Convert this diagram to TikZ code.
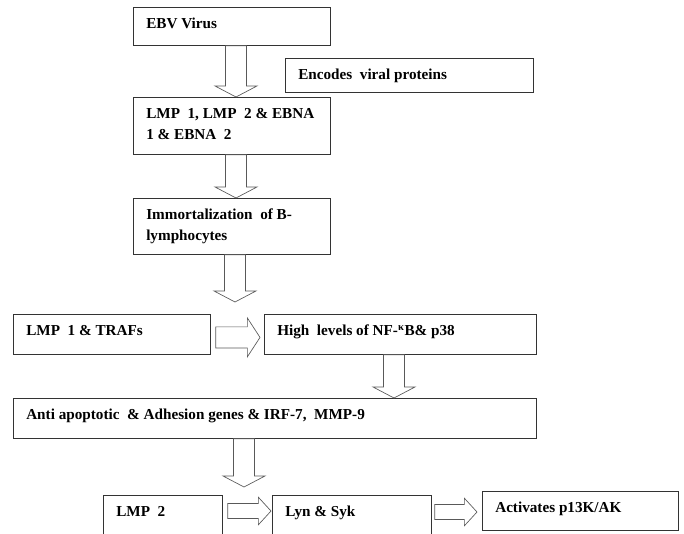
\documentclass[tikz,border=0pt]{standalone}
\usepackage{fontspec}
\setmainfont{Liberation Serif}
\usetikzlibrary{calc}

% hollow block arrow, pointing down
\newcommand{\vblock}[2]{%
  \draw[block] let \p1=#1, \p2=#2 in
    (\x1-7.9pt,\y1) -- (\x1+7.9pt,\y1) -- (\x1+7.9pt,\y2+8.3pt)
    -- (\x1+15.8pt,\y2+8.3pt) -- (\x1,\y2) -- (\x1-15.8pt,\y2+8.3pt)
    -- (\x1-7.9pt,\y2+8.3pt) -- cycle;}
% hollow block arrow, pointing right
\newcommand{\hblock}[3][7.9pt]{%
  \draw[block] let \p1=#2, \p2=#3 in
    (\x1,\y1+#1) -- (\x2-9.5pt,\y1+#1) -- (\x2-9.5pt,\y1+1.85*#1)
    -- (\x2,\y1) -- (\x2-9.5pt,\y1-1.85*#1) -- (\x2-9.5pt,\y1-#1)
    -- (\x1,\y1-#1) -- cycle;}

\begin{document}
\begin{tikzpicture}[
    x=0.75pt, y=-0.75pt,
    box/.style 2 args={draw=black!80, line width=0.6pt, anchor=north west, inner sep=0pt,
      minimum width=#1*0.75pt, minimum height=#2*0.75pt},
    txt/.style={anchor=north west, align=left, inner xsep=9.75pt, inner ysep=8.2pt,
      font=\bfseries\fontsize{11.4}{15.75}\selectfont},
    block/.style={draw=black!65, line width=0.5pt, fill=white, line join=miter}
  ]
  \clip (0,0) rectangle (684,533);
  \node[box={197}{38}, label={[txt]north west:EBV Virus}] (ebv) at (133,7) {};
  \node[box={248}{34}, label={[txt]north west:Encodes~ viral proteins}] (enc) at (285,58) {};
  \node[box={197}{57}, label={[txt]north west:{LMP~ 1, LMP~ 2 \& EBNA\\1 \& EBNA~ 2}}] (lmp) at (133,97) {};
  \node[box={197}{56}, label={[txt]north west:{Immortalization~ of B-\\lymphocytes}}] (imm) at (133,198) {};
  \node[box={197}{40}, label={[txt]north west:LMP~ 1 \& TRAFs}] (traf) at (13,314) {};
  \node[box={272}{40}, label={[txt]north west:High~ levels of NF-\textsuperscript{κ}B\& p38}] (nfkb) at (264,314) {};
  \node[box={523}{40}, label={[txt]north west:{Anti apoptotic~ \& Adhesion genes \& IRF-7,~ MMP-9}}] (anti) at (13,398) {};
  \node[box={119}{60}, label={[txt]north west:LMP~ 2}] (lmp2) at (103,495) {};
  \node[box={159}{60}, label={[txt]north west:Lyn \& Syk}] (lyn) at (272,495) {};
  \node[box={196}{39}, label={[txt]north west:Activates p13K/AK}] (act) at (482,491) {};

  \coordinate (tip3) at (235,302);
  \coordinate (tip5) at (244,487);
  \vblock{(236,0 |- ebv.south)}{(236,0 |- lmp.north)}
  \vblock{(236,0 |- lmp.south)}{(236,0 |- imm.north)}
  \vblock{(tip3 |- imm.south)}{(tip3)}
  \vblock{(394,0 |- nfkb.south)}{(394,0 |- anti.north)}
  \vblock{(tip5 |- anti.south)}{(tip5)}
  \hblock{($(traf.east)+(5,3)$)}{($(nfkb.west)+(-4,3)$)}
  \hblock[5.6pt]{($(lmp2.north east)+(5,16)$)}{($(lyn.north west)+(-1,16)$)}
  \hblock[5.6pt]{($(lyn.north east)+(3,17)$)}{($(act.north west)+(-5,17)$)}
\end{tikzpicture}
\end{document}
